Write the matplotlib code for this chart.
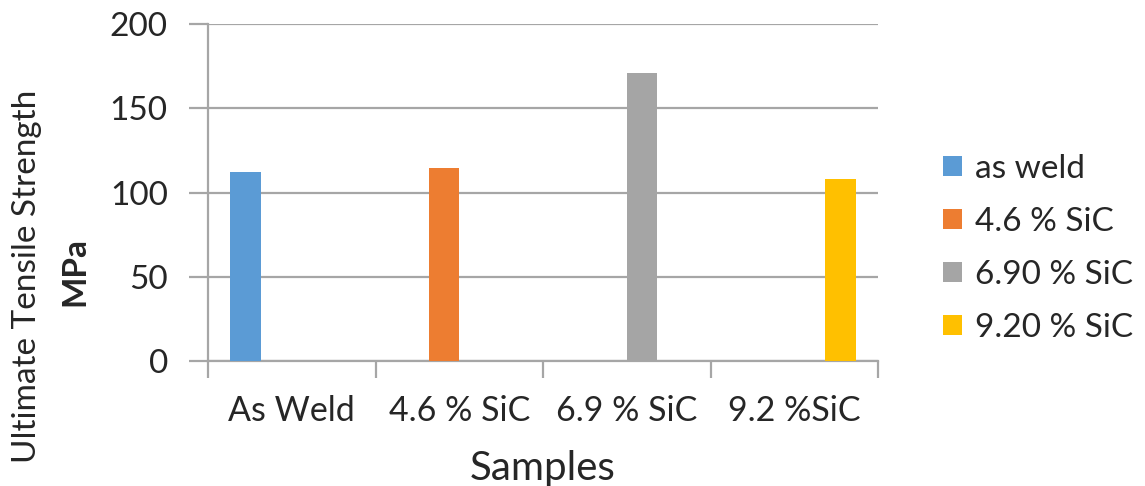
import numpy as np
import matplotlib
matplotlib.use("Agg")
import matplotlib.pyplot as plt

plt.rcParams["font.family"] = ["Lato", "DejaVu Sans"]

# tensile test results (MPa)
categories = ["As Weld", "4.6 % SiC", "6.9 % SiC", "9.2 %SiC"]
series_names = ["as weld", "4.6 % SiC", "6.90 % SiC", "9.20 % SiC"]
as_weld = [112, 0, 0, 0]
sic_46 = [0, 114.5, 0, 0]
sic_69 = [0, 0, 171, 0]
sic_92 = [0, 0, 0, 108]
colors = ["#5b9bd5", "#ed7d31", "#a5a5a5", "#ffc000"]

grid_c = "#a6a6a6"
text_c = "#262626"

fig = plt.figure(figsize=(11.45, 4.86), dpi=100)
ax = fig.add_axes([0.1817, 0.2578, 0.5851, 0.6922])

x = np.arange(len(categories))
w = 0.183
for i, (vals, name) in enumerate(zip([as_weld, sic_46, sic_69, sic_92], series_names)):
    ax.bar(x + (i - 1.5) * w, vals, width=w, color=colors[i], label=name, zorder=3)

ax.set_xlim(-0.5, len(categories) - 0.5)
ax.set_ylim(0, 200)
ax.set_yticks([0, 50, 100, 150, 200])
ax.yaxis.grid(True, color=grid_c, linewidth=1.6, zorder=0)
ax.tick_params(axis="y", length=14, width=1.6, color=grid_c, labelsize=24,
               labelcolor=text_c, pad=15)

# category boundaries as major ticks, names on minor ticks
ax.set_xticks(np.arange(-0.5, len(categories)), labels=[""] * (len(categories) + 1))
ax.set_xticks(x, labels=categories, minor=True)
ax.tick_params(axis="x", which="major", length=12, width=1.6, color=grid_c)
ax.tick_params(axis="x", which="minor", length=0, labelsize=24.5, labelcolor=text_c, pad=25)

for s in ["top", "right"]:
    ax.spines[s].set_visible(False)
for s in ["left", "bottom"]:
    ax.spines[s].set_color(grid_c)
    ax.spines[s].set_linewidth(1.6)

ax.set_xlabel("Samples", fontsize=29, color=text_c, labelpad=16)
fig.text(0.0236, 0.432, "Ultimate Tensile Strength", rotation=90, fontsize=24,
         color=text_c, ha="center", va="center")
fig.text(0.0655, 0.442, "MPa", rotation=90, fontsize=24, fontweight="bold",
         color=text_c, ha="center", va="center")

ax.legend(loc="upper left", bbox_to_anchor=(1.077, 0.655), frameon=False,
          fontsize=24, handlelength=0.57, handleheight=0.57, handletextpad=0.39,
          labelspacing=0.69, labelcolor=text_c, borderaxespad=0)

fig.savefig("out.png", dpi=100)
